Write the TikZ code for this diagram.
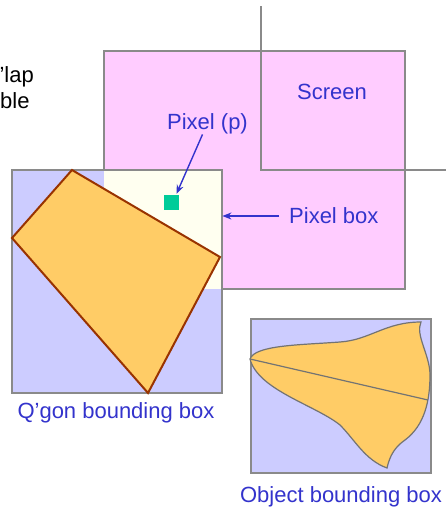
\documentclass[tikz,border=0pt]{standalone}
\usepackage{fontspec}
\setmainfont{Liberation Sans}
\usetikzlibrary{arrows.meta}
\definecolor{pinkfill}{HTML}{FFCCFF}
\definecolor{bluefill}{HTML}{CCCCFF}
\definecolor{ivory}{HTML}{FFFFF0}
\definecolor{orangefill}{HTML}{FFCC66}
\definecolor{quadline}{HTML}{993300}
\definecolor{boxline}{HTML}{8A8A8A}
\definecolor{textblue}{HTML}{3333CC}
\definecolor{pixgreen}{HTML}{00CC99}
\tikzset{
  boxst/.style={draw=boxline, line width=1.5pt},
  lbl/.style={text=textblue, font=\fontsize{22}{26}\selectfont, inner sep=0pt},
  blk/.style={text=black, font=\fontsize{22}{26}\selectfont, inner sep=0pt},
  ptr/.style={draw=textblue, line width=1.4pt, -{Stealth[length=9pt,width=7pt]}},
}
\begin{document}
\begin{tikzpicture}[x=1pt,y=-1pt]
\useasboundingbox (0,0) rectangle (446,514);
\clip (0,0) rectangle (446,514);
% pink region
\path[fill=pinkfill, boxst] (104,51) rectangle (405,289);
% Q'gon bounding box
\fill[bluefill] (12,170) rectangle (222,393);
\node[fill=ivory, inner sep=0pt, minimum width=118pt, minimum height=119pt, anchor=north west] (pixbox) at (104,170) {};
\draw[boxst] (12,170) rectangle (222,393);
% screen lines
\coordinate (scrtop) at (261,6);
\coordinate (scrcorner) at (261,170);
\coordinate (scrright) at (446,170);
\draw[boxst] (scrtop) -- (scrcorner) -- (scrright);
% quadrilateral
\draw[fill=orangefill, draw=quadline, line width=2pt, line join=miter]
  (72,170) -- (12,238) -- (148,393) -- (220,257) -- cycle;
% pixel
\node[fill=pixgreen, inner sep=0pt, minimum size=15pt] (pix) at (171.5,202.5) {};
% object bounding box
\draw[fill=bluefill, boxst] (251,319) rectangle (431,473);
\draw[fill=orangefill, draw=black!55, line width=1.2pt]
  (250,359) .. controls (255,345) and (300,345) .. (340,342)
  .. controls (370,340) and (385,322) .. (421,322)
  .. controls (415,335) and (430,355) .. (430,375)
  .. controls (430,400) and (425,425) .. (405,440)
  .. controls (395,447) and (390,455) .. (387,468)
  .. controls (365,460) and (355,440) .. (340,425)
  .. controls (315,405) and (258,390) .. (250,359) -- cycle;
\draw[draw=black!55, line width=1.2pt] (250,359) -- (428,400);
% labels
\node[lbl] (screen) at (332,92) {Screen};
\node[lbl] (pixlbl) at (207.5,124) {Pixel (p)};
\node[lbl, anchor=west] (pixboxlbl) at (289,216) {Pixel box};
\node[lbl] (qgonlbl) at (116,413) {Q’gon bounding box};
\node[lbl] (objlbl) at (341,497) {Object bounding box};
\node[blk, anchor=base east] (olap) at (34,82) {’lap};
\node[blk, anchor=base west] (vis) at (0,108) {ble};
% arrows
\draw[ptr] ([xshift=-5pt]pixlbl.south) -- ([xshift=5pt,yshift=1pt]pix.north);
\draw[ptr] ([xshift=-10pt]pixboxlbl.west) -- (pixbox.east |- pixboxlbl.west);
\end{tikzpicture}
\end{document}
